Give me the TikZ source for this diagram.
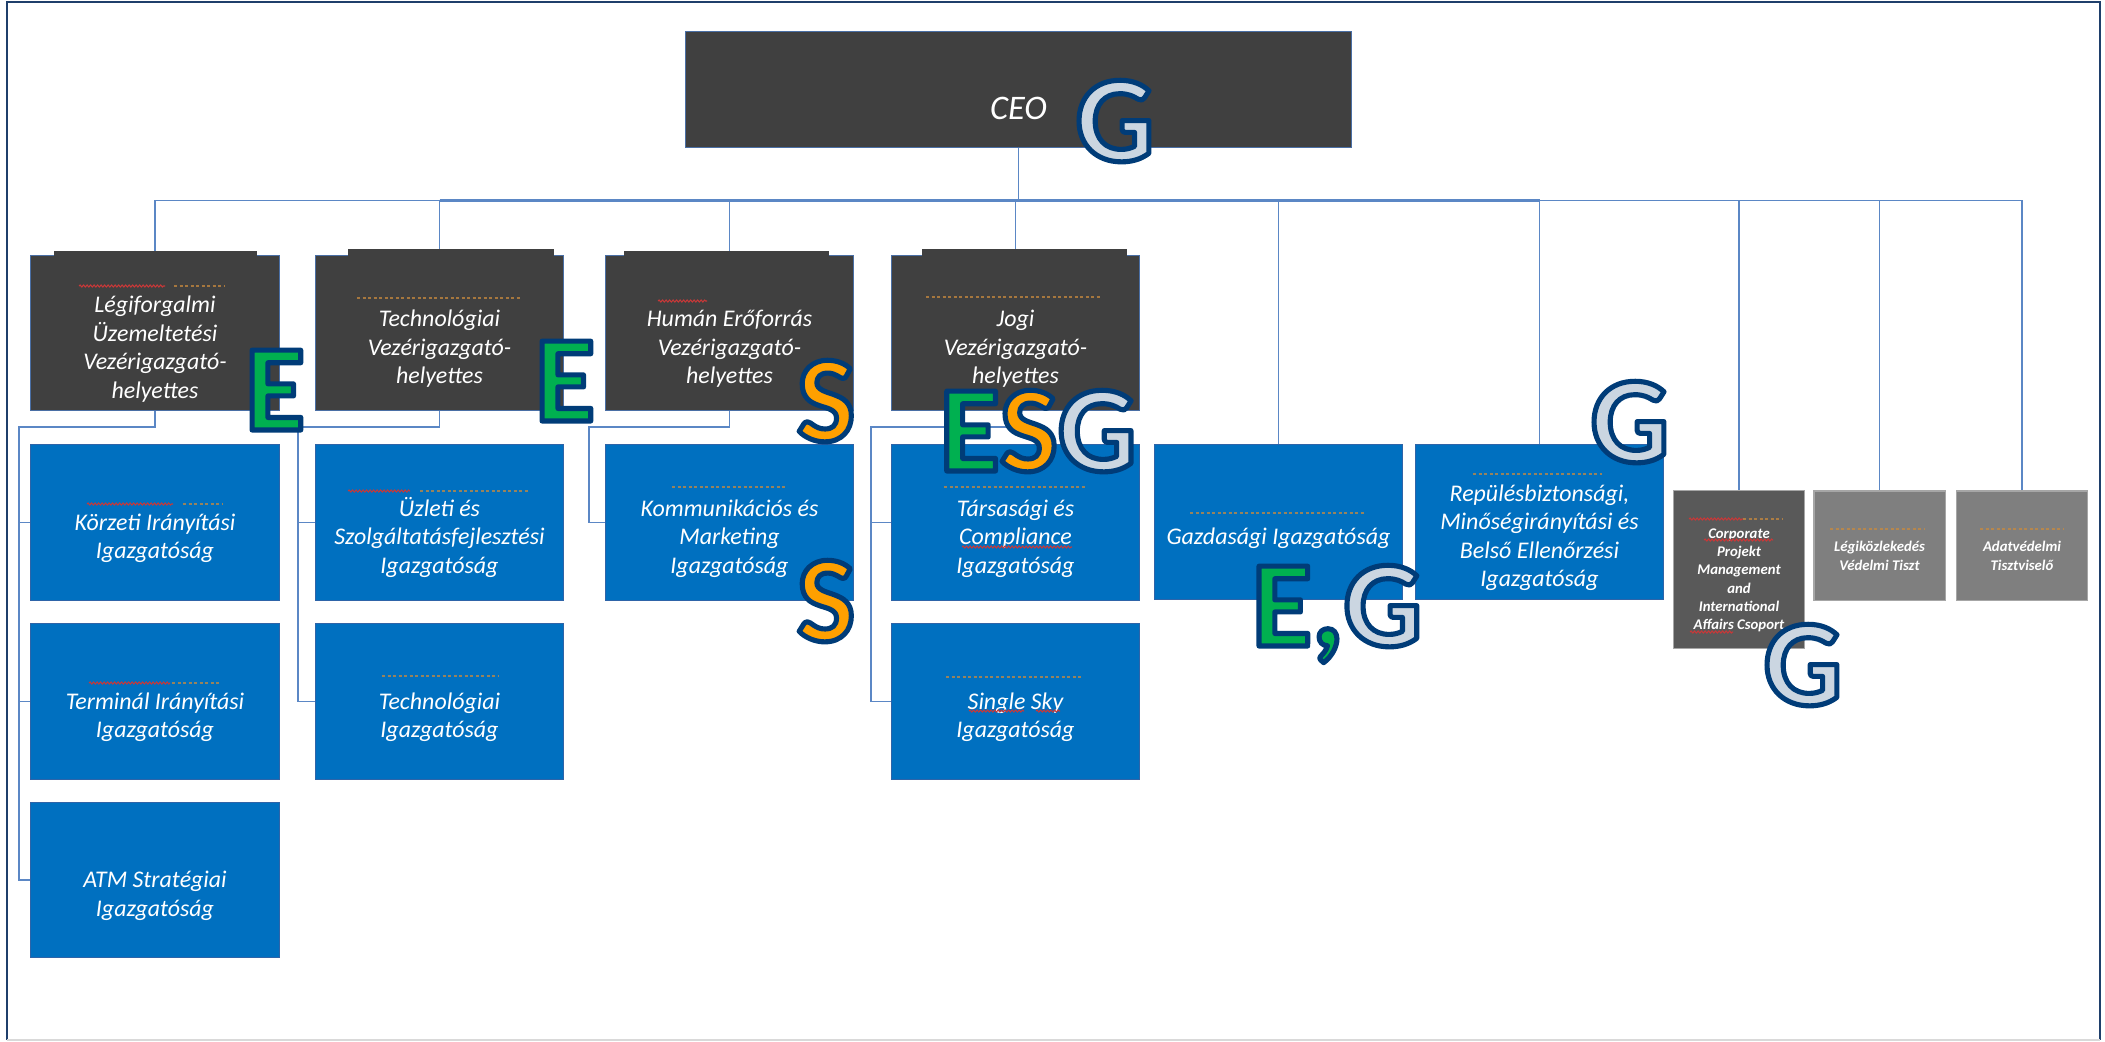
\documentclass[tikz,border=0pt]{standalone}
\usepackage{fontspec}
\setmainfont{Carlito}
\usetikzlibrary{decorations.pathmorphing}

\definecolor{boxdark}{HTML}{404040}
\definecolor{boxblue}{HTML}{0070C0}
\definecolor{blueedge}{HTML}{2E64A8}
\definecolor{darkedge}{HTML}{4A6FA5}
\definecolor{graybox}{HTML}{7F7F7F}
\definecolor{corpgray}{HTML}{595959}
\definecolor{grayedge}{HTML}{A6A6A6}
\definecolor{connblue}{HTML}{5B87C5}
\definecolor{frameblue}{HTML}{1F3F6B}
\definecolor{egreen}{HTML}{00B050}
\definecolor{sorange}{HTML}{FFA000}
\definecolor{ggray}{HTML}{CBD6E1}
\definecolor{nameorange}{HTML}{C98A3E}
\definecolor{squigred}{HTML}{C83838}

% outlined letter: fill colour #1, navy stroke round it
\newcommand{\outl}[2]{\textcolor{#1}{\special{pdf:code 2 Tr 1.45 w 1 j 0 0.235 0.471 RG}#2\special{pdf:code 0 Tr 0.4 w}}}
\newcommand{\Emark}{\outl{egreen}{E}}
\newcommand{\Smark}{\outl{sorange}{S}}
\newcommand{\Gmark}{\outl{ggray}{G}}

\tikzset{
  ceobox/.style={rectangle, fill=boxdark, draw=darkedge, line width=0.3pt,
    minimum width=6.65cm, minimum height=1.15cm, inner sep=0pt, align=center,
    text=white, font={\fontsize{9.8}{10}\selectfont\itshape}},
  vzhbox/.style={rectangle, fill=boxdark, draw=darkedge, line width=0.3pt,
    minimum width=2.48cm, minimum height=1.54cm, inner sep=0pt, align=center,
    text=white, font={\fontsize{6.8}{8.1}\selectfont\itshape}},
  igbox/.style={vzhbox, fill=boxblue, draw=blueedge, minimum height=1.55cm},
  smallbox/.style={rectangle, fill=graybox, draw=grayedge, line width=0.3pt,
    minimum width=1.31cm, minimum height=1.09cm, inner sep=0pt, align=center,
    text=white, font={\fontsize{4.2}{5.2}\selectfont\bfseries\itshape}},
  conn/.style={draw=connblue, line width=0.45pt},
  squig/.style={draw=squigred, line width=0.3pt, decorate,
    decoration={snake, amplitude=0.01cm, segment length=0.035cm}},
  namedash/.style={draw=nameorange, draw opacity=0.75, line width=0.45pt,
    dash pattern=on 0.03cm off 0.025cm},
  esgletter/.style={anchor=base, inner sep=0pt,
    font={\fontsize{35}{35}\selectfont\bfseries}}
}

\begin{document}
\begin{tikzpicture}[x=0.01cm,y=-0.01cm]
  \useasboundingbox (0,0) rectangle (2105,1042);
  % frame
  \draw[frameblue, line width=0.6pt] (7,1040) -- (7,2) -- (2100,2) -- (2100,1040);
  \draw[black!15, line width=0.4pt] (7,1040) -- (2100,1040);

  % top level
  \node[ceobox] (ceo) at (1018.5,89.5) {\strut\\CEO};
  \node[vzhbox] (vzh1) at (155,333) {\strut\\Légiforgalmi\\Üzemeltetési\\Vezérigazgató-\\helyettes};
  \node[vzhbox] (vzh2) at (439.5,333) {\strut\\Technológiai\\Vezérigazgató-\\helyettes};
  \node[vzhbox] (vzh3) at (729.5,333) {\strut\\Humán Erőforrás\\Vezérigazgató-\\helyettes};
  \node[vzhbox] (vzh4) at (1015.5,333) {\strut\\Jogi\\Vezérigazgató-\\helyettes};

  % directorates
  \node[igbox] (igk) at (155,522.5) {\strut\\Körzeti Irányítási\\Igazgatóság};
  \node[igbox] (igt) at (155,701.5) {\strut\\Terminál Irányítási\\Igazgatóság};
  \node[igbox] (igatm) at (155,880) {\strut\\ATM Stratégiai\\Igazgatóság};
  \node[igbox] (iguz) at (439.5,522.5) {\strut\\Üzleti és\\Szolgáltatásfejlesztési\\Igazgatóság};
  \node[igbox] (igtech) at (439.5,701.5) {\strut\\Technológiai\\Igazgatóság};
  \node[igbox] (igkom) at (729.5,522.5) {\strut\\Kommunikációs és\\Marketing\\Igazgatóság};
  \node[igbox] (igtars) at (1015.5,522.5) {\strut\\Társasági és\\Compliance\\Igazgatóság};
  \node[igbox] (igss) at (1015.5,701.5) {\strut\\Single Sky\\Igazgatóság};
  \node[igbox] (iggazd) at (1278.5,522) {\strut\\Gazdasági Igazgatóság};
  \node[igbox] (igrep) at (1539.5,522) {\strut\\Repülésbiztonsági,\\Minőségirányítási és\\Belső Ellenőrzési\\Igazgatóság};

  % staff
  \node[smallbox, fill=corpgray, minimum height=1.57cm] (corp) at (1739,569.5)
    {\strut\\Corporate\\Projekt\\Management\\and\\International\\Affairs Csoport};
  \node[smallbox] (lvt) at (1879.5,545.5) {\strut\\Légiközlekedés\\Védelmi Tiszt};
  \node[smallbox] (adat) at (2022,545.5) {\strut\\Adatvédelmi\\Tisztviselő};

  % connectors
  \path (ceo.south) ++(0,53) coordinate (bus);
  \draw[conn] (ceo.south) -- (bus);
  \foreach \n in {vzh1,vzh2,vzh3,vzh4,iggazd,igrep,corp,lvt,adat}
    \draw[conn] (bus) -| (\n.north);
  \draw[conn, line width=0.9pt] (vzh2.north |- bus) -- (igrep.north |- bus);

  \coordinate (r1) at (19,427);
  \coordinate (r2) at (298,427);
  \coordinate (r3) at (589,427);
  \coordinate (r4) at (871,427);
  \draw[conn] (vzh1.south) |- (r1) |- (igk.west);
  \draw[conn] (r1) |- (igt.west);
  \draw[conn] (r1) |- (igatm.west);
  \draw[conn] (vzh2.south) |- (r2) |- (iguz.west);
  \draw[conn] (r2) |- (igtech.west);
  \draw[conn] (vzh3.south) |- (r3) |- (igkom.west);
  \draw[conn] (vzh4.south) |- (r4) |- (igtars.west);
  \draw[conn] (r4) |- (igss.west);

  % covered name strips
  \fill[boxdark] (54,251) rectangle (257,284);
  \fill[boxdark] (348,249) rectangle (554,284);
  \fill[boxdark] (624,251) rectangle (829,284);
  \fill[boxdark] (922,249) rectangle (1127,284);

  % name remnants
  \draw[squig] (79,286) -- (165,286);
  \draw[namedash] (174,286) -- (225,286);
  \draw[namedash] (357,298) -- (520,298);
  \draw[squig] (658,301) -- (707,301);
  \draw[namedash] (926,297) -- (1102,297);
  \draw[squig] (87,504) -- (173,504);
  \draw[namedash] (183,504) -- (223,504);
  \draw[squig] (348,491) -- (410,491);
  \draw[namedash] (420,491) -- (529,491);
  \draw[squig] (89,683) -- (170,683);
  \draw[namedash] (172,683) -- (219,683);
  \draw[namedash] (382,676) -- (498,676);
  \draw[namedash] (672,487) -- (785,487);
  \draw[namedash] (944,487) -- (1085,487);
  \draw[namedash] (946,677) -- (1083,677);
  \draw[namedash] (1190,513) -- (1364,513);
  \draw[namedash] (1473,474) -- (1602,474);
  \draw[squig] (1689,519) -- (1743,519);
  \draw[namedash] (1743,519) -- (1783,519);
  \draw[namedash] (1830,529) -- (1925,529);
  \draw[namedash] (1980,529) -- (2064,529);
  % spelling marks
  \draw[squig] (962,547) -- (1072,547);
  \draw[squig] (969,711) -- (1024,711);
  \draw[squig] (1036,711) -- (1060,711);
  \draw[squig] (1704,540) -- (1773,540);
  \draw[squig] (1690,632) -- (1733,632);

  % ESG marks
  \node[esgletter] (gceo) at (1115,161) {\Gmark};
  \node[esgletter] (e1) at (275,430) {\Emark};
  \node[esgletter] (e2) at (565,421) {\Emark};
  \node[esgletter] (s1) at (826,441) {\Smark};
  \node[esgletter] (esgjogi) at (1038,471) {\Emark\Smark\Gmark};
  \node[esgletter] (s2) at (826,641) {\Smark};
  \node[esgletter] (grep) at (1630,462) {\Gmark};
  \node[esgletter] (eggazd) at (1337,646) {\outl{egreen}{E,}\Gmark};
  \node[esgletter] (gcorp) at (1803,705) {\Gmark};
\end{tikzpicture}
\end{document}
